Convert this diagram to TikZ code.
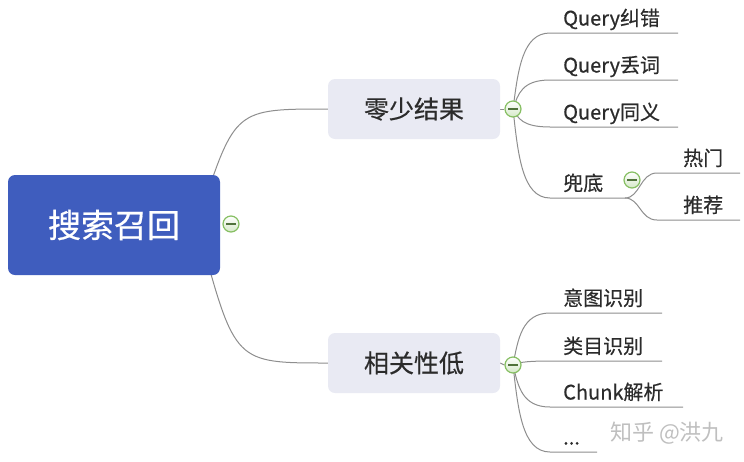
\documentclass[tikz,border=0pt]{standalone}
\usepackage{fontspec}
\setmainfont{Noto Sans CJK SC}[BoldFont=Noto Sans CJK SC,BoldFeatures={FakeBold=0.5}]
\usetikzlibrary{positioning,backgrounds}

\definecolor{rootblue}{HTML}{3F5DBE}
\definecolor{topicgray}{HTML}{E9EAF3}
\definecolor{linegray}{HTML}{8E8E8E}
\definecolor{foldgreen}{HTML}{86BF62}
\definecolor{textgray}{HTML}{2B2B2B}

\begin{document}
\begin{tikzpicture}[x=1pt,y=-1pt,
 root/.style={fill=rootblue,rounded corners=7pt,minimum width=212pt,minimum height=100pt,
              text=white,font=\fontsize{33}{33}\selectfont\bfseries},
 topic/.style={fill=topicgray,rounded corners=7pt,minimum width=172pt,minimum height=60pt,
               text=textgray,font=\fontsize{25}{25}\selectfont\bfseries},
 leaf/.style={anchor=base west,inner sep=0pt,text=textgray,font=\fontsize{20}{20}\selectfont\bfseries},
 link/.style={draw=linegray,line width=1pt},
 fold/.style={circle,draw=foldgreen,line width=1.2pt,minimum size=16pt,inner sep=0pt,
              top color=white,bottom color=foldgreen!35,
              path picture={\draw[foldgreen!60!black,line width=1.2pt]
                ([xshift=-5pt]path picture bounding box.center)--([xshift=5pt]path picture bounding box.center);}}]

\useasboundingbox (0,0) rectangle (744,461);

% nodes
\node[root]  (root)   at (114,225) {搜索召回};
\node[topic] (topicA) at (414,109) {零少结果};
\node[topic] (topicB) at (414,363) {相关性低};

\node[leaf] (jiucuo)  at (563,25.5)  {Query纠错};
\node[leaf] (diuci)   at (563,72.5)  {Query丢词};
\node[leaf] (tongyi)  at (563,119.5) {Query同义};
\node[leaf] (doudi)   at (563,190.5) {兜底};
\node[leaf] (remen)   at (683,165.5) {热门};
\node[leaf] (tuijian) at (683,212.5) {推荐};

\node[leaf] (yitu)  at (563,305.5) {意图识别};
\node[leaf] (leimu) at (563,353.5) {类目识别};
\node[leaf] (chunk) at (563,399.5) {Chunk解析};
\node[leaf] (more)  at (563,444.5) {...};

\node[anchor=west,inner sep=0pt,text=black!25,font=\fontsize{22}{22}\selectfont] (wm) at (610,433) {知乎 @洪九};

\node[fold] (fR) at (231,224) {};
\node[fold] (fA) at (513,109) {};
\node[fold] (fB) at (513,365) {};
\node[fold] (fD) at (632,180) {};

% underline ends
\coordinate (jiucuo-l) at (550,33);   \coordinate (jiucuo-r) at (678,33);
\coordinate (diuci-l) at (550,80);    \coordinate (diuci-r) at (678,80);
\coordinate (tongyi-l) at (550,127);  \coordinate (tongyi-r) at (678,127);
\coordinate (doudi-l) at (550,198);   \coordinate (doudi-r) at (625,198);
\coordinate (remen-l) at (657,173);   \coordinate (remen-r) at (740,173);
\coordinate (tuijian-l) at (657,220); \coordinate (tuijian-r) at (740,220);
\coordinate (yitu-l) at (550,313);    \coordinate (yitu-r) at (662,313);
\coordinate (leimu-l) at (550,361);   \coordinate (leimu-r) at (662,361);
\coordinate (chunk-l) at (550,407);   \coordinate (chunk-r) at (683,407);
\coordinate (more-l) at (550,452);    \coordinate (more-r) at (597,452);

% links
\begin{scope}[on background layer]
\draw[link] ([shift={(-20,-10)}]root.east) .. controls (235,109) .. (topicA.west);
\draw[link] ([shift={(-20,10)}]root.east) .. controls (235,363) .. (topicB.west);
\draw[link] (topicA.east) -- (fA.west);
\draw[link] (topicB.east) -- (fB.west);

\draw[link] (fA.center) .. controls +(5,-38) and +(-28,0) .. (jiucuo-l) -- (jiucuo-r);
\draw[link] (fA.center) .. controls +(5,-15) and +(-28,0) .. (diuci-l) -- (diuci-r);
\draw[link] (fA.center) .. controls +(5,9) and +(-28,0) .. (tongyi-l) -- (tongyi-r);
\draw[link] (fA.center) .. controls +(5,45) and +(-28,0) .. (doudi-l) -- (doudi-r);
\draw[link] (doudi-r) .. controls +(15,0) and +(-17,0) .. (remen-l) -- (remen-r);
\draw[link] (doudi-r) .. controls +(15,0) and +(-17,0) .. (tuijian-l) -- (tuijian-r);

\draw[link] (fB.center) .. controls +(5,-26) and +(-28,0) .. (yitu-l) -- (yitu-r);
\draw[link] (fB.center) .. controls +(5,-2) and +(-28,0) .. (leimu-l) -- (leimu-r);
\draw[link] (fB.center) .. controls +(5,21) and +(-28,0) .. (chunk-l) -- (chunk-r);
\draw[link] (fB.center) .. controls +(5,44) and +(-28,0) .. (more-l) -- (more-r);
\end{scope}
\end{tikzpicture}
\end{document}
